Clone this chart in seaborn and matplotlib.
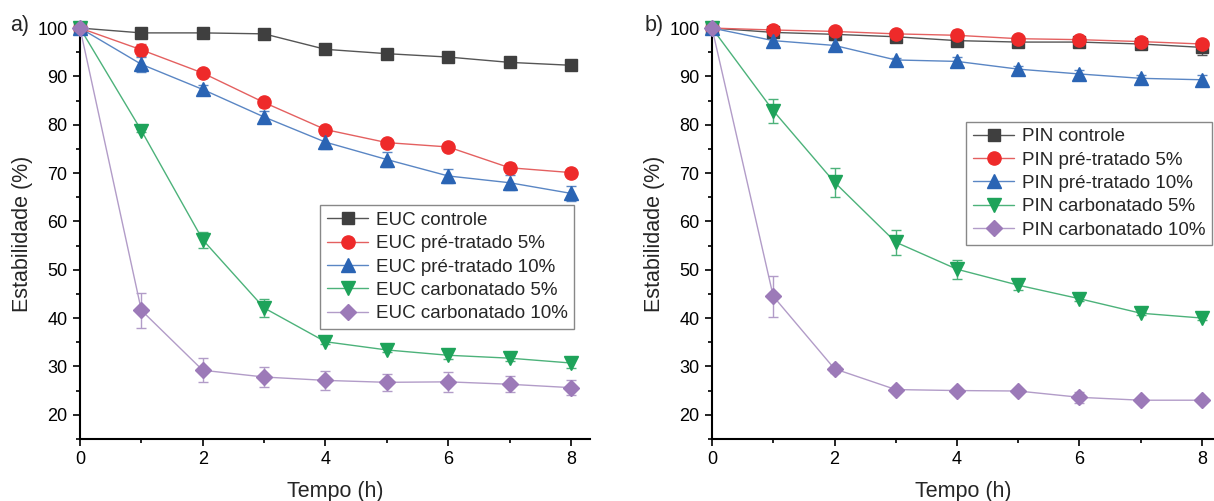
import numpy as np
import pandas as pd
import seaborn as sns
import matplotlib.pyplot as plt

tempo = [0, 1, 2, 3, 4, 5, 6, 7, 8]

series_names = ["controle", "pré-tratado 5%", "pré-tratado 10%",
                "carbonatado 5%", "carbonatado 10%"]

# EUC (panel a)
euc_controle = [100, 99.0, 99.0, 98.8, 95.6, 94.7, 94.0, 92.9, 92.3]
euc_pre5 = [100, 95.5, 90.7, 84.6, 79.0, 76.3, 75.4, 71.1, 70.1]
euc_pre10 = [100, 92.5, 87.3, 81.6, 76.4, 72.8, 69.4, 68.0, 65.8]
euc_carb5 = [100, 78.8, 56.2, 42.1, 35.1, 33.4, 32.3, 31.7, 30.7]
euc_carb10 = [100, 41.6, 29.2, 27.8, 27.1, 26.7, 26.8, 26.3, 25.6]

euc_controle_err = [0, 0.3, 0.3, 0.3, 0.3, 0.4, 0.4, 1.0, 1.0]
euc_pre5_err = [0, 1.3, 0.6, 1.0, 0.6, 0.3, 0.3, 1.0, 0.5]
euc_pre10_err = [0, 1.5, 1.0, 1.3, 1.5, 1.5, 1.5, 1.5, 1.5]
euc_carb5_err = [0, 0.3, 1.7, 1.8, 0.4, 0.5, 0.8, 0.5, 1.0]
euc_carb10_err = [0, 3.6, 2.5, 2.0, 2.0, 1.7, 2.0, 1.7, 1.5]

# PIN (panel b)
pin_controle = [100, 99.1, 98.7, 98.2, 97.4, 97.1, 97.1, 96.7, 96.0]
pin_pre5 = [100, 99.6, 99.3, 98.8, 98.5, 97.8, 97.6, 97.2, 96.7]
pin_pre10 = [100, 97.4, 96.4, 93.4, 93.1, 91.5, 90.5, 89.6, 89.3]
pin_carb5 = [100, 82.9, 68.1, 55.7, 50.1, 46.8, 44.0, 41.0, 40.0]
pin_carb10 = [100, 44.5, 29.5, 25.2, 25.0, 24.9, 23.6, 23.0, 23.0]

pin_controle_err = [0, 0.3, 0.3, 0.4, 1.0, 0.5, 0.5, 0.6, 1.5]
pin_pre5_err = [0, 0.3, 0.3, 0.5, 1.0, 0.5, 0.4, 0.5, 0.8]
pin_pre10_err = [0, 1.2, 1.2, 0.4, 1.0, 0.6, 0.8, 0.6, 0.9]
pin_carb5_err = [0, 2.5, 3.0, 2.6, 2.0, 1.1, 0.5, 0.3, 0.4]
pin_carb10_err = [0, 4.3, 0.8, 0.4, 0.4, 0.4, 1.1, 0.4, 0.4]

marker_colors = ["#3f3f3f", "#ee2a2a", "#2a64b4", "#1ea35a", "#9c7ab8"]
line_colors = ["#555555", "#e46060", "#5a86c4", "#4cb27a", "#b29cc8"]
markers = ["s", "o", "^", "v", "D"]
msizes = [8, 9.5, 9.5, 9.5, 8]


def build(prefix, values, errors):
    rows = []
    for name, vals, errs in zip(series_names, values, errors):
        for t, v, e in zip(tempo, vals, errs):
            rows.append({"Tempo": t, "Estabilidade": v, "err": e,
                         "serie": f"{prefix} {name}"})
    return pd.DataFrame(rows)


euc = build("EUC", [euc_controle, euc_pre5, euc_pre10, euc_carb5, euc_carb10],
            [euc_controle_err, euc_pre5_err, euc_pre10_err, euc_carb5_err,
             euc_carb10_err])
pin = build("PIN", [pin_controle, pin_pre5, pin_pre10, pin_carb5, pin_carb10],
            [pin_controle_err, pin_pre5_err, pin_pre10_err, pin_carb5_err,
             pin_carb10_err])

sns.set_theme(style="ticks")
plt.rcParams["font.family"] = ["Liberation Sans", "DejaVu Sans"]

fig = plt.figure(figsize=(12.14, 5.01), dpi=100)
ax_a = fig.add_axes([0.0659, 0.124, 0.420, 0.820])
ax_b = fig.add_axes([0.5865, 0.124, 0.4137, 0.820])


def draw(ax, df, label, xmax, legend_kw):
    order = df["serie"].unique()
    # thin connecting lines
    sns.lineplot(data=df, x="Tempo", y="Estabilidade", hue="serie",
                 hue_order=order, palette=line_colors, linewidth=1.0,
                 legend=False, ax=ax, zorder=2, clip_on=False)
    for i, s in enumerate(order):
        d = df[df["serie"] == s]
        ax.errorbar(d["Tempo"], d["Estabilidade"], yerr=d["err"], fmt="none",
                    ecolor=line_colors[i], elinewidth=1.0, capsize=3.5,
                    capthick=1.0, zorder=3, clip_on=False)
        ax.plot(d["Tempo"], d["Estabilidade"], linestyle="none",
                marker=markers[i], markersize=msizes[i],
                markerfacecolor=marker_colors[i],
                markeredgecolor=marker_colors[i], zorder=4, clip_on=False)
        ax.plot([], [], color=line_colors[i], linewidth=1.0, marker=markers[i],
                markersize=msizes[i], markerfacecolor=marker_colors[i],
                markeredgecolor=marker_colors[i], label=s)
    ax.set_xlim(0, xmax)
    ax.set_ylim(15, 100)
    ax.set_xticks([0, 2, 4, 6, 8])
    ax.set_xticks([1, 3, 5, 7], minor=True)
    ax.set_yticks(range(20, 101, 10))
    ax.set_yticks(range(15, 100, 10), minor=True)
    ax.tick_params(axis="both", which="major", labelsize=13, length=5,
                   width=1.2, direction="out", colors="black", pad=4)
    ax.tick_params(axis="both", which="minor", length=3, width=1.2,
                   direction="out", colors="black")
    for sp in ["left", "bottom"]:
        ax.spines[sp].set_linewidth(1.5)
        ax.spines[sp].set_color("black")
    sns.despine(ax=ax)
    ax.set_xlabel("Tempo (h)", fontsize=15.5, labelpad=9)
    ax.set_ylabel("Estabilidade (%)", fontsize=15.5, labelpad=3)
    leg = ax.legend(fontsize=13.5, frameon=True, fancybox=False, framealpha=1,
                    edgecolor="#888888", handlelength=2.2, handletextpad=0.4,
                    borderpad=0.35, labelspacing=0.33, borderaxespad=0,
                    **legend_kw)
    leg.get_frame().set_linewidth(1.0)


draw(ax_a, euc, "a)", 8.31, dict(loc="lower right", bbox_to_anchor=(0.969, 0.268)))
draw(ax_b, pin, "b)", 8.2, dict(loc="upper right", bbox_to_anchor=(0.995, 0.772)))

fig.text(10 / 1214, 1 - 25 / 501, "a)", fontsize=15.5, ha="left", va="center")
fig.text(645 / 1214, 1 - 25 / 501, "b)", fontsize=15.5, ha="left", va="center")

fig.savefig("out.png", dpi=100)
